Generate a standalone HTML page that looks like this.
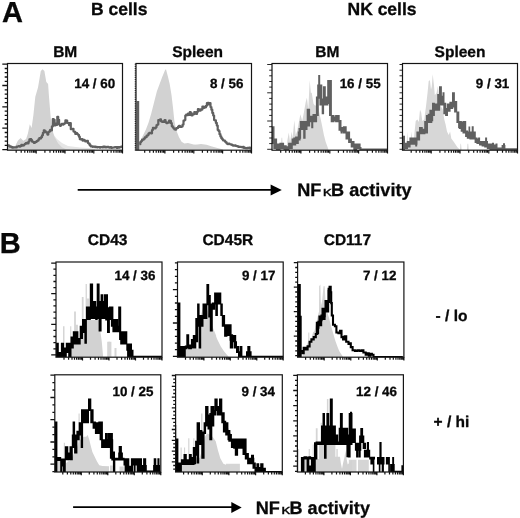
<!DOCTYPE html>
<html><head><meta charset="utf-8"><title>Figure</title>
<style>
html,body{margin:0;padding:0;background:#fff;}
body{width:520px;height:518px;overflow:hidden;font-family:"Liberation Sans",sans-serif;}
svg{display:block;filter:grayscale(1) blur(0.45px);}
svg text{text-rendering:geometricPrecision;}
svg text{font-family:"Liberation Sans",sans-serif;font-weight:bold;fill:#080808;stroke:#080808;stroke-width:0.3px;}
</style></head><body>
<svg width="520" height="518" viewBox="0 0 520 518">
<rect width="520" height="518" fill="#fff"/>
<defs><clipPath id="cA1"><rect x="7.5" y="63.5" width="115.0" height="86.7"/></clipPath><clipPath id="cA2"><rect x="136.0" y="63.5" width="115.5" height="86.7"/></clipPath><clipPath id="cA3"><rect x="272.0" y="63.5" width="115.5" height="86.7"/></clipPath><clipPath id="cA4"><rect x="402.5" y="63.5" width="115.0" height="86.7"/></clipPath><clipPath id="cB1"><rect x="56.0" y="262.0" width="106.0" height="95.2"/></clipPath><clipPath id="cB2"><rect x="177.5" y="262.0" width="105.7" height="95.2"/></clipPath><clipPath id="cB3"><rect x="297.6" y="262.0" width="106.3" height="95.2"/></clipPath><clipPath id="cB4"><rect x="54.8" y="374.8" width="106.0" height="97.2"/></clipPath><clipPath id="cB5"><rect x="175.6" y="374.8" width="106.7" height="97.2"/></clipPath><clipPath id="cB6"><rect x="297.4" y="374.8" width="106.0" height="97.2"/></clipPath></defs>
<g clip-path="url(#cA1)">
<path d="M50.0 150.2 L50.0 128.0 L53.0 134.0 L57.0 139.0 L62.0 143.0 L68.0 146.0 L80.0 147.6 L95.0 148.6 L95.0 150.2 Z" fill="#e6e6e6"/>
<path d="M7.8 150.2 L7.8 146.2 L9.6 143.5 L11.4 146.2 L15.1 146.2 L17.8 140.7 L20.6 138.0 L23.3 140.7 L26.1 138.9 L27.9 133.4 L29.8 124.2 L31.6 127.9 L33.4 115.0 L35.3 96.7 L38.0 87.5 L40.8 71.0 L42.6 69.2 L44.4 71.0 L46.3 82.0 L48.1 83.9 L49.0 96.7 L50.5 115.0 L51.8 127.9 L54.5 137.1 L58.2 143.5 L61.9 147.2 L65.6 149.0 L70.0 149.5 L70.0 150.2 Z" fill="#d2d2d2"/>
<path d="M7.8 145.3 H8.7 V145.8 H9.6 V146.7 H10.5 V146.7 H11.4 V147.2 H12.3 V147.7 H13.2 V147.3 H14.1 V147.5 H15.0 V147.4 H15.9 V147.5 H16.8 V146.5 H17.7 V146.5 H18.6 V146.1 H19.5 V146.6 H20.4 V146.1 H21.3 V144.9 H22.2 V145.7 H23.1 V145.4 H24.0 V144.5 H24.9 V143.9 H25.8 V143.0 H26.7 V142.8 H27.6 V143.5 H28.5 V141.6 H29.4 V139.4 H30.3 V139.2 H31.2 V140.2 H32.1 V141.7 H33.0 V142.0 H33.9 V142.9 H34.8 V142.3 H35.7 V141.9 H36.6 V141.1 H37.5 V140.7 H38.4 V139.4 H39.3 V138.2 H40.2 V138.5 H41.1 V137.2 H42.0 V135.3 H42.9 V132.8 H43.8 V130.4 H44.7 V131.1 H45.6 V132.2 H46.5 V132.6 H47.4 V134.6 H48.3 V132.0 H49.2 V131.4 H50.1 V129.9 H51.0 V130.5 H51.9 V126.4 H52.8 V119.1 H53.7 V119.9 H54.6 V125.5 H55.5 V123.7 H56.4 V124.8 H57.3 V116.8 H58.2 V119.8 H59.1 V124.3 H60.0 V125.8 H60.9 V124.5 H61.8 V123.9 H62.7 V124.6 H63.6 V123.9 H64.5 V123.2 H65.4 V120.4 H66.3 V120.6 H67.2 V123.0 H68.1 V123.1 H69.0 V125.1 H69.9 V123.2 H70.8 V129.2 H71.7 V129.2 H72.6 V128.8 H73.5 V131.5 H74.4 V131.9 H75.3 V133.9 H76.2 V133.0 H77.1 V134.0 H78.0 V134.8 H78.9 V136.7 H79.8 V139.2 H80.7 V139.4 H81.6 V139.2 H82.5 V140.6 H83.4 V139.8 H84.3 V140.4 H85.2 V141.4 H86.1 V141.4 H87.0 V140.9 H87.9 V143.0 H88.8 V143.7 H89.7 V145.2 H90.6 V146.3 H91.5 V146.4 H92.4 V146.8 H93.3 V146.6 H94.2 V146.6 H95.1 V147.2 H96.0 V146.9 H96.9 V147.3 H97.8 V147.0 H98.7 V147.1 H99.6 V147.6 H100.5 V147.0 H101.4 V147.1 H102.3 V147.4 H103.2 V146.7 H104.1 V146.6 H105.0 V147.4 H105.9 V147.4 H106.8 V146.8 H107.7 V146.8 H108.6 V147.4 H109.5 V147.7 H110.4 V147.0 H111.3 V147.8 H112.2 V147.7 H113.1 V147.5 H114.0 V147.3 H114.9 V147.0 H115.8 V147.0 H116.7 V147.9 H117.6 V147.2 H118.5 V147.7 H119.4 V147.0 H120.3 V147.1 H121.2 V146.5 H122.1 V146.2" fill="none" stroke="#606060" stroke-width="2.2" stroke-linejoin="round"/>
</g>
<rect x="7.5" y="63.5" width="115.0" height="86.7" fill="none" stroke="#151515" stroke-width="1.2"/>
<path d="M16.2 150.2V152.8M21.2 150.2V152.8M24.8 150.2V152.8M27.6 150.2V152.8M29.9 150.2V152.8M31.8 150.2V152.8M33.5 150.2V152.8M34.9 150.2V152.8M36.2 150.2V153.4M44.9 150.2V152.8M50.0 150.2V152.8M53.6 150.2V152.8M56.3 150.2V152.8M58.6 150.2V152.8M60.5 150.2V152.8M62.2 150.2V152.8M63.7 150.2V152.8M65.0 150.2V153.4M73.7 150.2V152.8M78.7 150.2V152.8M82.3 150.2V152.8M85.1 150.2V152.8M87.4 150.2V152.8M89.3 150.2V152.8M91.0 150.2V152.8M92.4 150.2V152.8M93.8 150.2V153.4M102.4 150.2V152.8M107.5 150.2V152.8M111.1 150.2V152.8M113.8 150.2V152.8M116.1 150.2V152.8M118.0 150.2V152.8M119.7 150.2V152.8M121.2 150.2V152.8M122.5 150.2V153.4" stroke="#111" stroke-width="1.2" fill="none"/>
<g clip-path="url(#cA2)">
<path d="M138.5 150.2 L138.5 144.4 L140.3 140.7 L143.1 135.2 L145.8 129.7 L148.6 122.4 L151.3 113.2 L154.1 102.2 L156.9 91.2 L159.6 83.9 L162.4 76.5 L165.1 70.1 L166.0 69.2 L167.9 76.5 L169.7 83.9 L171.5 94.9 L173.0 107.7 L174.3 120.6 L176.1 129.7 L178.9 137.1 L181.6 141.7 L184.4 143.5 L188.0 142.9 L193.6 144.4 L198.0 144.8 L191.8 145.1 L195.5 144.8 L201.0 144.0 L206.5 144.8 L212.0 146.6 L217.5 148.1 L223.0 149.5 L223.0 150.2 Z" fill="#d2d2d2"/>
<rect x="136.6" y="101.0" width="2.6" height="49.2" fill="#606060"/>
<path d="M139.4 144.2 H140.3 V142.1 H141.2 V141.0 H142.1 V139.5 H143.0 V139.6 H143.9 V138.7 H144.8 V137.4 H145.7 V137.2 H146.6 V135.5 H147.5 V135.3 H148.4 V133.7 H149.3 V132.8 H150.2 V132.9 H151.1 V133.3 H152.0 V130.0 H152.9 V127.9 H153.8 V128.0 H154.7 V128.4 H155.6 V127.3 H156.5 V125.2 H157.4 V124.5 H158.3 V120.0 H159.2 V120.5 H160.1 V119.4 H161.0 V121.3 H161.9 V121.8 H162.8 V121.4 H163.7 V121.9 H164.6 V120.1 H165.5 V122.1 H166.4 V123.2 H167.3 V122.7 H168.2 V122.6 H169.1 V120.7 H170.0 V120.9 H170.9 V123.2 H171.8 V126.2 H172.7 V127.3 H173.6 V128.5 H174.5 V129.5 H175.4 V129.6 H176.3 V128.1 H177.2 V127.9 H178.1 V126.6 H179.0 V125.8 H179.9 V126.9 H180.8 V126.9 H181.7 V126.4 H182.6 V124.6 H183.5 V120.7 H184.4 V120.0 H185.3 V115.6 H186.2 V114.6 H187.1 V115.2 H188.0 V113.6 H188.9 V115.0 H189.8 V112.2 H190.7 V113.0 H191.6 V115.5 H192.5 V114.4 H193.4 V114.2 H194.3 V112.0 H195.2 V113.0 H196.1 V113.9 H197.0 V111.8 H197.9 V109.2 H198.8 V110.0 H199.7 V110.7 H200.6 V109.3 H201.5 V109.6 H202.4 V106.5 H203.3 V108.0 H204.2 V106.9 H205.1 V107.3 H206.0 V105.8 H206.9 V103.0 H207.8 V102.9 H208.7 V104.3 H209.6 V103.2 H210.5 V107.1 H211.4 V109.7 H212.3 V112.9 H213.2 V115.5 H214.1 V120.1 H215.0 V120.4 H215.9 V122.9 H216.8 V125.6 H217.7 V129.9 H218.6 V131.1 H219.5 V134.2 H220.4 V136.4 H221.3 V138.2 H222.2 V139.3 H223.1 V140.5 H224.0 V140.5 H224.9 V141.6 H225.8 V142.4 H226.7 V143.6 H227.6 V144.1 H228.5 V143.5 H229.4 V144.0 H230.3 V144.4 H231.2 V144.7 H232.1 V145.2 H233.0 V145.7 H233.9 V145.6 H234.8 V145.4 H235.7 V146.0 H236.6 V146.1 H237.5 V146.4 H238.4 V147.0 H239.3 V146.8 H240.2 V146.8 H241.1 V147.0 H242.0 V147.3 H242.9 V146.8 H243.8 V147.9 H244.7 V147.9 H245.6 V148.1 H246.5 V148.2 H247.4 V147.8 H248.3 V147.9 H249.2 V147.7 H250.1 V148.3 H251.0 V147.9" fill="none" stroke="#606060" stroke-width="2.2" stroke-linejoin="round"/>
</g>
<rect x="136.0" y="63.5" width="115.5" height="86.7" fill="none" stroke="#151515" stroke-width="1.2"/>
<path d="M144.7 150.2V152.8M149.8 150.2V152.8M153.4 150.2V152.8M156.2 150.2V152.8M158.5 150.2V152.8M160.4 150.2V152.8M162.1 150.2V152.8M163.6 150.2V152.8M164.9 150.2V153.4M173.6 150.2V152.8M178.7 150.2V152.8M182.3 150.2V152.8M185.1 150.2V152.8M187.3 150.2V152.8M189.3 150.2V152.8M191.0 150.2V152.8M192.4 150.2V152.8M193.8 150.2V153.4M202.4 150.2V152.8M207.5 150.2V152.8M211.1 150.2V152.8M213.9 150.2V152.8M216.2 150.2V152.8M218.2 150.2V152.8M219.8 150.2V152.8M221.3 150.2V152.8M222.6 150.2V153.4M231.3 150.2V152.8M236.4 150.2V152.8M240.0 150.2V152.8M242.8 150.2V152.8M245.1 150.2V152.8M247.0 150.2V152.8M248.7 150.2V152.8M250.2 150.2V152.8M251.5 150.2V153.4" stroke="#111" stroke-width="1.2" fill="none"/>
<g clip-path="url(#cA3)">
<path d="M286.5 150.2 L286.5 149.8 L287.4 140.3 L288.8 132.4 L290.0 142.0 L291.7 131.6 L292.6 138.5 L294.3 120.3 L295.7 135.0 L297.0 131.6 L298.7 122.9 L300.4 114.2 L302.2 121.1 L303.9 112.4 L305.7 102.0 L306.9 97.7 L308.3 109.0 L309.7 80.3 L310.9 93.3 L311.7 92.4 L313.5 103.7 L314.9 105.5 L317.0 105.5 L318.7 109.8 L320.4 117.7 L322.2 126.3 L323.9 135.0 L325.7 142.0 L328.3 149.0 L328.3 150.2 Z" fill="#d7d7d7"/>
<path d="M280.8 150.2 L280.8 149.8 L281.5 137.7 L282.2 137.7 L282.9 149.8 L282.9 150.2 Z" fill="#d7d7d7"/>
<path d="M271.9 126.2H274.5V143.9H271.9ZM273.3 138.4H277.1V149.1H273.3ZM275.9 143.6H280.6V150.0H275.9ZM279.4 142.7H284.1V149.1H279.4ZM283.4 145.3H286.7V150.0H283.4ZM285.5 146.2H289.3V150.0H285.5ZM288.1 142.7H292.8V149.1H288.1ZM291.6 138.4H296.2V145.6H291.6ZM293.3 137.5H296.2V140.4H293.3ZM295.1 136.6H298.8V143.9H295.1ZM297.7 131.4H300.6V140.4H297.7ZM298.5 127.9H301.1V138.7H298.5ZM299.8 121.0H307.5V130.0H299.8ZM303.2 129.7H305.6V138.7H303.2ZM306.7 108.8H310.1V126.5H306.7ZM309.0 115.8H313.6V122.2H309.0ZM311.2 121.8H313.3V128.2H311.2ZM312.5 114.0H317.1V122.2H312.5ZM315.9 96.6H318.8V116.1H315.9ZM317.2 84.5H320.6V98.7H317.2ZM318.2 74.9H320.2V85.6H318.2ZM319.4 84.5H322.3V105.6H319.4ZM321.7 98.4H324.1V114.3H321.7ZM322.9 86.2H325.8V105.6H322.9ZM325.2 96.6H328.4V105.6H325.2ZM327.2 80.1H330.1V103.9H327.2ZM329.0 80.1H331.9V116.1H329.0ZM330.7 114.9H334.5V122.2H330.7ZM333.3 116.6H336.2V121.3H333.3ZM335.1 114.9H339.7V122.2H335.1ZM338.5 120.1H341.5V130.8H338.5ZM340.3 127.1H344.1V131.7H340.3ZM340.6 130.5H342.7V133.5H340.6ZM342.9 126.2H346.7V133.5H342.9ZM345.5 131.4H350.1V139.5H345.5ZM348.1 138.4H351.9V143.0H348.1ZM350.7 141.0H354.5V147.4H350.7ZM353.3 143.6H357.1V150.0H353.3ZM355.9 143.6H360.6V149.1H355.9ZM359.4 147.1H361.5V150.0H359.4ZM361.2 148.5H387.5V150.0H361.2Z" fill="#606060"/>
</g>
<rect x="272.0" y="63.5" width="115.5" height="86.7" fill="none" stroke="#151515" stroke-width="1.2"/>
<path d="M280.7 150.2V152.8M285.8 150.2V152.8M289.4 150.2V152.8M292.2 150.2V152.8M294.5 150.2V152.8M296.4 150.2V152.8M298.1 150.2V152.8M299.6 150.2V152.8M300.9 150.2V153.4M309.6 150.2V152.8M314.7 150.2V152.8M318.3 150.2V152.8M321.1 150.2V152.8M323.3 150.2V152.8M325.3 150.2V152.8M327.0 150.2V152.8M328.4 150.2V152.8M329.8 150.2V153.4M338.4 150.2V152.8M343.5 150.2V152.8M347.1 150.2V152.8M349.9 150.2V152.8M352.2 150.2V152.8M354.2 150.2V152.8M355.8 150.2V152.8M357.3 150.2V152.8M358.6 150.2V153.4M367.3 150.2V152.8M372.4 150.2V152.8M376.0 150.2V152.8M378.8 150.2V152.8M381.1 150.2V152.8M383.0 150.2V152.8M384.7 150.2V152.8M386.2 150.2V152.8M387.5 150.2V153.4" stroke="#111" stroke-width="1.2" fill="none"/>
<g clip-path="url(#cA4)">
<path d="M404.3 150.2 L404.3 149.8 L404.9 147.2 L406.6 146.3 L407.3 131.6 L408.3 145.5 L410.4 143.7 L411.3 131.6 L412.2 140.3 L413.9 138.5 L415.7 121.1 L417.4 119.4 L418.8 122.0 L420.0 109.8 L421.2 112.4 L422.3 121.1 L424.3 119.4 L426.1 105.5 L427.5 93.3 L428.7 81.1 L429.9 80.3 L431.0 89.8 L431.8 86.3 L432.7 74.2 L433.9 84.6 L434.8 95.0 L436.5 93.3 L437.9 86.3 L439.1 96.8 L440.3 105.5 L442.6 109.0 L444.3 119.4 L445.6 124.6 L447.0 131.6 L448.7 135.0 L450.1 131.6 L451.3 138.5 L453.9 142.0 L457.4 147.2 L460.0 149.8 L460.0 150.2 Z" fill="#d7d7d7"/>
<path d="M460.0 150.2 L460.0 149.8 L460.5 143.7 L461.0 143.7 L461.6 149.8 L461.6 150.2 Z" fill="#d7d7d7"/>
<path d="M467.0 150.2 L467.0 149.8 L467.5 143.7 L468.2 143.7 L468.7 149.8 L468.7 150.2 Z" fill="#d7d7d7"/>
<path d="M402.3 135.8H405.0V150.0H402.3ZM404.2 142.7H408.0V149.1H404.2ZM406.8 141.0H410.6V147.4H406.8ZM409.4 137.5H417.5V144.8H409.4ZM415.2 143.6H417.2V146.5H415.2ZM416.4 131.4H420.1V140.4H416.4ZM419.0 127.1H422.8V134.3H419.0ZM421.6 128.8H425.4V134.3H421.6ZM424.2 121.0H428.0V133.5H424.2ZM425.9 114.9H432.3V123.0H425.9ZM427.7 113.7H430.1V116.1H427.7ZM429.4 109.7H433.2V121.3H429.4ZM432.0 102.7H434.9V116.1H432.0ZM433.8 103.6H438.4V110.8H433.8ZM437.2 94.0H440.1V110.8H437.2ZM439.0 86.2H441.9V105.6H439.0ZM440.7 95.8H444.5V105.6H440.7ZM442.5 92.3H444.5V96.9H442.5ZM443.3 102.7H446.2V114.3H443.3ZM445.1 107.9H448.0V116.1H445.1ZM446.8 103.6H450.6V111.7H446.8ZM449.4 101.8H453.2V109.1H449.4ZM452.0 92.3H454.9V107.4H452.0ZM454.1 101.0H457.2V112.6H454.1ZM456.4 111.4H459.3V123.0H456.4ZM458.1 121.0H461.0V128.2H458.1ZM459.0 121.0H461.9V129.1H459.0ZM460.7 121.8H463.6V131.7H460.7ZM462.5 121.0H466.2V133.5H462.5ZM465.1 130.5H468.0V136.9H465.1ZM466.8 131.4H470.6V138.7H466.8ZM468.5 126.5H470.2V132.6H468.5ZM469.4 131.4H472.3V139.5H469.4ZM471.2 131.4H475.8V139.5H471.2ZM471.7 126.2H473.7V132.6H471.7ZM474.6 137.5H477.5V143.0H474.6ZM476.4 138.4H480.1V143.9H476.4ZM478.1 137.5H480.1V139.5H478.1ZM479.0 141.0H482.8V145.6H479.0ZM481.6 141.0H485.4V146.5H481.6ZM484.2 141.0H488.0V147.4H484.2ZM485.1 137.5H487.1V142.2H485.1ZM486.8 143.6H490.6V149.1H486.8ZM489.4 143.6H494.1V150.0H489.4ZM492.0 142.7H494.1V144.8H492.0ZM492.9 144.5H497.5V150.0H492.9ZM495.5 143.6H497.5V145.6H495.5ZM497.2 147.4H501.9V150.0H497.2ZM501.6 145.0H505.4V150.0H501.6ZM503.0 143.2H505.0V145.6H503.0ZM505.1 148.3H517.5V150.0H505.1Z" fill="#606060"/>
</g>
<rect x="402.5" y="63.5" width="115.0" height="86.7" fill="none" stroke="#151515" stroke-width="1.2"/>
<path d="M411.2 150.2V152.8M416.2 150.2V152.8M419.8 150.2V152.8M422.6 150.2V152.8M424.9 150.2V152.8M426.8 150.2V152.8M428.5 150.2V152.8M429.9 150.2V152.8M431.2 150.2V153.4M439.9 150.2V152.8M445.0 150.2V152.8M448.6 150.2V152.8M451.3 150.2V152.8M453.6 150.2V152.8M455.5 150.2V152.8M457.2 150.2V152.8M458.7 150.2V152.8M460.0 150.2V153.4M468.7 150.2V152.8M473.7 150.2V152.8M477.3 150.2V152.8M480.1 150.2V152.8M482.4 150.2V152.8M484.3 150.2V152.8M486.0 150.2V152.8M487.4 150.2V152.8M488.8 150.2V153.4M497.4 150.2V152.8M502.5 150.2V152.8M506.1 150.2V152.8M508.8 150.2V152.8M511.1 150.2V152.8M513.0 150.2V152.8M514.7 150.2V152.8M516.2 150.2V152.8M517.5 150.2V153.4" stroke="#111" stroke-width="1.2" fill="none"/>
<path d="M2.3 64.2H7.5M4.7 68.5H7.5M4.7 72.7H7.5M4.7 77.0H7.5M4.7 81.3H7.5M2.3 85.5H7.5M4.7 89.8H7.5M4.7 94.1H7.5M4.7 98.4H7.5M4.7 102.6H7.5M2.3 106.9H7.5M4.7 111.2H7.5M4.7 115.4H7.5M4.7 119.7H7.5M4.7 124.0H7.5M2.3 128.2H7.5M4.7 132.5H7.5M4.7 136.8H7.5M4.7 141.1H7.5M4.7 145.3H7.5M2.3 149.6H7.5" stroke="#111" stroke-width="1.3" fill="none"/>
<path d="M134.7 64.2H136.0M134.7 66.4H136.0M134.7 68.6H136.0M134.7 70.8H136.0M134.7 73.0H136.0M134.7 75.2H136.0M134.7 77.4H136.0M134.7 79.6H136.0M134.7 81.8H136.0M134.7 84.0H136.0M134.7 86.2H136.0M134.7 88.4H136.0M134.7 90.6H136.0M134.7 92.8H136.0M134.7 95.0H136.0M134.7 97.2H136.0M134.7 99.4H136.0M134.7 101.6H136.0M134.7 103.8H136.0M134.7 106.0H136.0M134.7 108.2H136.0M134.7 110.4H136.0M134.7 112.6H136.0M134.7 114.8H136.0M134.7 117.0H136.0M134.7 119.2H136.0M134.7 121.4H136.0M134.7 123.6H136.0M134.7 125.8H136.0M134.7 128.0H136.0M134.7 130.2H136.0M134.7 132.4H136.0M134.7 134.6H136.0M134.7 136.8H136.0M134.7 139.0H136.0M134.7 141.2H136.0M134.7 143.4H136.0M134.7 145.6H136.0M134.7 147.8H136.0M134.7 150.0H136.0" stroke="#111" stroke-width="0.9" fill="none"/>
<path d="M267.2 64.5H272.0M269.2 70.2H272.0M269.2 75.8H272.0M269.2 81.5H272.0M269.2 87.1H272.0M267.2 92.8H272.0M269.2 98.4H272.0M269.2 104.1H272.0M269.2 109.7H272.0M269.2 115.4H272.0M267.2 121.0H272.0M269.2 126.7H272.0M269.2 132.3H272.0M269.2 138.0H272.0M269.2 143.6H272.0M267.2 149.3H272.0" stroke="#111" stroke-width="0.9" fill="none"/>
<path d="M399.5 64.5H402.5M399.5 70.2H402.5M399.5 75.8H402.5M399.5 81.5H402.5M399.5 87.1H402.5M399.5 92.8H402.5M399.5 98.4H402.5M399.5 104.1H402.5M399.5 109.7H402.5M399.5 115.4H402.5M399.5 121.0H402.5M399.5 126.7H402.5M399.5 132.3H402.5M399.5 138.0H402.5M399.5 143.6H402.5M399.5 149.3H402.5" stroke="#111" stroke-width="0.9" fill="none"/>
<g clip-path="url(#cB1)">
<path d="M63.0 357.2 L63.0 356.4 L63.0 326.3 L64.5 326.3 L64.5 356.4 L64.5 357.2 Z" fill="#d5d5d5"/>
<path d="M70.2 357.2 L70.2 356.4 L70.2 326.3 L71.3 326.3 L71.3 356.4 L71.3 357.2 Z" fill="#d5d5d5"/>
<path d="M74.1 357.2 L74.1 356.4 L74.1 311.6 L75.9 311.6 L75.9 324.8 L77.9 324.8 L77.9 356.4 L77.9 357.2 Z" fill="#d5d5d5"/>
<path d="M81.8 357.2 L81.8 356.4 L81.8 297.0 L83.6 297.0 L83.6 326.3 L81.8 326.3 L81.8 357.2 Z" fill="#d5d5d5"/>
<path d="M85.6 357.2 L85.6 356.4 L85.6 283.9 L86.9 283.9 L86.9 298.5 L89.2 298.5 L89.2 356.4 L89.2 357.2 Z" fill="#d5d5d5"/>
<path d="M108.3 357.2 L108.3 356.4 L108.3 341.7 L111.4 341.7 L111.4 356.4 L111.4 357.2 Z" fill="#d5d5d5"/>
<path d="M114.5 357.2 L114.5 356.4 L114.5 347.9 L116.5 347.9 L116.5 356.4 L116.5 357.2 Z" fill="#d5d5d5"/>
<path d="M107.2 357.2 L107.2 356.4 L107.2 341.7 L110.0 341.7 L110.0 356.4 L110.0 357.2 Z" fill="#d5d5d5"/>
<path d="M71.0 357.2 L71.0 356.4 L71.0 347.9 L73.3 344.8 L75.6 344.0 L77.9 341.7 L80.2 338.6 L82.5 332.5 L84.9 326.3 L87.2 320.1 L98.8 320.1 L100.3 330.9 L101.8 341.7 L103.1 356.4 L103.1 357.2 Z" fill="#d2d2d2"/>
<path d="M55.5 342.8H58.8V356.9H55.5ZM57.8 352.0H61.9V356.9H57.8ZM60.9 342.8H64.1V356.9H60.9ZM63.1 347.4H66.8V356.9H63.1ZM65.8 342.8H69.2V353.0H65.8ZM68.2 342.8H71.5V356.9H68.2ZM70.5 336.6H73.8V348.4H70.5ZM72.8 331.2H78.4V344.5H72.8ZM77.4 338.1H80.7V344.5H77.4ZM79.7 325.8H83.0V339.1H79.7ZM82.0 318.9H85.4V333.0H82.0ZM84.4 318.9H86.9V343.8H84.4ZM85.9 306.5H90.8V319.9H85.9ZM89.8 283.4H93.1V319.1H89.8ZM92.1 301.1H96.2V319.1H92.1ZM95.2 306.5H97.7V319.9H95.2ZM96.7 283.4H99.6V319.1H96.7ZM98.6 301.1H101.6V331.4H98.6ZM100.6 294.2H103.1V319.1H100.6ZM102.1 301.1H104.7V319.1H102.1ZM103.7 294.2H106.2V319.1H103.7ZM105.2 301.1H107.7V320.6H105.2ZM106.7 307.3H110.5V319.1H106.7ZM104.6 294.2H108.0V313.7H104.6ZM107.0 312.7H109.9V333.0H107.0ZM108.9 306.5H113.4V313.7H108.9ZM109.4 306.5H111.9V319.9H109.4ZM110.9 306.5H113.4V326.8H110.9ZM112.4 318.9H118.1V332.2H112.4ZM118.2 306.5H121.2V332.2H118.2ZM117.1 325.8H121.2V332.2H117.1ZM119.1 331.2H121.6V339.9H119.1ZM120.2 331.2H127.3V344.5H120.2ZM126.3 343.5H132.0V350.7H126.3ZM127.1 349.7H129.6V356.9H127.1ZM129.4 349.7H133.5V356.9H129.4ZM132.5 355.7H162.1V357.2H132.5Z" fill="#000"/>
</g>
<rect x="56.0" y="262.0" width="106.0" height="95.2" fill="none" stroke="#151515" stroke-width="1.2"/>
<path d="M64.0 357.2V359.8M68.6 357.2V359.8M72.0 357.2V359.8M74.5 357.2V359.8M76.6 357.2V359.8M78.4 357.2V359.8M79.9 357.2V359.8M81.3 357.2V359.8M82.5 357.2V360.4M90.5 357.2V359.8M95.1 357.2V359.8M98.5 357.2V359.8M101.0 357.2V359.8M103.1 357.2V359.8M104.9 357.2V359.8M106.4 357.2V359.8M107.8 357.2V359.8M109.0 357.2V360.4M117.0 357.2V359.8M121.6 357.2V359.8M125.0 357.2V359.8M127.5 357.2V359.8M129.6 357.2V359.8M131.4 357.2V359.8M132.9 357.2V359.8M134.3 357.2V359.8M135.5 357.2V360.4M143.5 357.2V359.8M148.1 357.2V359.8M151.5 357.2V359.8M154.0 357.2V359.8M156.1 357.2V359.8M157.9 357.2V359.8M159.4 357.2V359.8M160.8 357.2V359.8M162.0 357.2V360.4" stroke="#111" stroke-width="1.2" fill="none"/>
<g clip-path="url(#cB2)">
<path d="M199.1 357.2 L199.1 356.4 L199.9 318.6 L203.0 307.8 L206.1 306.2 L209.2 315.5 L212.3 326.3 L216.1 335.6 L217.7 356.4 L217.7 357.2 Z" fill="#d5d5d5"/>
<path d="M185.3 357.2 L185.3 356.4 L185.3 348.8 L200.7 348.5 L201.9 339.4 L203.9 329.4 L205.9 326.3 L207.8 317.8 L209.2 317.0 L210.7 326.3 L213.0 330.9 L215.4 335.6 L217.7 340.2 L220.8 346.4 L223.8 351.0 L226.9 354.8 L228.5 356.4 L228.5 357.2 Z" fill="#d2d2d2"/>
<path d="M177.0 302.6H180.4V356.9H177.0ZM179.4 345.9H185.8V356.9H179.4ZM184.8 345.5H187.3V349.2H184.8ZM186.3 334.3H189.2V348.4H186.3ZM188.2 344.6H191.9V349.2H188.2ZM190.9 338.9H193.8V348.4H190.9ZM192.8 335.1H196.3V348.4H192.8ZM195.3 318.1H198.1V342.2H195.3ZM197.1 303.4H199.6V326.8H197.1ZM198.6 315.0H201.2V348.4H198.6ZM200.2 315.0H203.5V326.8H200.2ZM202.5 303.4H207.4V319.1H202.5ZM206.4 284.1H209.2V305.2H206.4ZM208.2 294.9H210.8V317.5H208.2ZM209.8 303.4H212.8V331.4H209.8ZM211.8 302.6H215.1V309.8H211.8ZM214.1 292.6H221.3V304.4H214.1ZM215.3 303.4H217.9V316.0H215.3ZM220.3 303.4H222.8V316.0H220.3ZM221.8 315.0H225.1V326.8H221.8ZM224.1 324.3H227.4V336.8H224.1ZM226.4 324.3H230.5V336.1H226.4ZM229.5 334.3H232.5V340.7H229.5ZM226.6 324.3H231.6V336.1H226.6ZM229.8 334.3H233.1V348.4H229.8ZM231.4 335.1H236.2V342.2H231.4ZM233.7 341.2H237.0V348.4H233.7ZM236.0 345.9H239.0V353.0H236.0ZM238.0 351.3H240.8V356.9H238.0ZM239.5 345.9H242.4V356.9H239.5ZM241.4 355.7H247.0V357.2H241.4ZM246.0 351.3H248.6V356.9H246.0ZM247.3 345.9H250.4V356.9H247.3ZM249.1 351.3H251.6V356.9H249.1ZM250.6 355.7H284.1V357.2H250.6Z" fill="#000"/>
</g>
<rect x="177.5" y="262.0" width="105.7" height="95.2" fill="none" stroke="#151515" stroke-width="1.2"/>
<path d="M185.5 357.2V359.8M190.1 357.2V359.8M193.4 357.2V359.8M196.0 357.2V359.8M198.1 357.2V359.8M199.8 357.2V359.8M201.4 357.2V359.8M202.7 357.2V359.8M203.9 357.2V360.4M211.9 357.2V359.8M216.5 357.2V359.8M219.8 357.2V359.8M222.4 357.2V359.8M224.5 357.2V359.8M226.3 357.2V359.8M227.8 357.2V359.8M229.1 357.2V359.8M230.3 357.2V360.4M238.3 357.2V359.8M243.0 357.2V359.8M246.3 357.2V359.8M248.8 357.2V359.8M250.9 357.2V359.8M252.7 357.2V359.8M254.2 357.2V359.8M255.6 357.2V359.8M256.8 357.2V360.4M264.7 357.2V359.8M269.4 357.2V359.8M272.7 357.2V359.8M275.2 357.2V359.8M277.3 357.2V359.8M279.1 357.2V359.8M280.6 357.2V359.8M282.0 357.2V359.8M283.2 357.2V360.4" stroke="#111" stroke-width="1.2" fill="none"/>
<g clip-path="url(#cB3)">
<path d="M308.0 357.2 L308.0 356.4 L308.3 332.5 L309.3 332.5 L309.6 356.4 L309.6 357.2 Z" fill="#d5d5d5"/>
<path d="M318.8 357.2 L318.8 356.4 L319.1 286.2 L320.4 284.6 L321.0 306.2 L322.2 300.1 L323.5 286.2 L324.7 286.2 L325.3 297.0 L326.2 306.2 L326.2 356.4 L326.2 357.2 Z" fill="#d5d5d5"/>
<path d="M302.2 357.2 L302.2 356.4 L303.7 352.5 L306.0 347.9 L308.0 341.7 L309.6 341.7 L311.4 338.6 L313.0 332.5 L314.5 330.9 L316.1 323.2 L317.6 317.0 L319.1 310.9 L320.7 306.2 L322.2 303.1 L323.8 303.1 L325.0 301.6 L326.1 306.2 L327.6 313.2 L329.2 318.6 L330.7 324.8 L332.3 330.2 L333.8 335.6 L335.4 341.0 L337.4 346.4 L339.2 351.0 L341.1 354.1 L342.9 356.4 L342.9 357.2 Z" fill="#d2d2d2"/>
<path d="M297.0 284.1H300.8V357.2H297.0ZM297.0 315.8H301.7V357.2H297.0ZM315.8 321.7H319.1V334.0H315.8ZM318.4 315.5H322.2V326.3H318.4ZM321.5 307.8H325.6V320.1H321.5ZM324.5 300.1H329.2V312.4H324.5ZM327.6 287.7H330.7V303.1H327.6Z" fill="#000"/>
<path d="M300.6 351.0 H302.2 V353.3 H303.7 V347.9 H305.6 V349.4 H307.6 V346.4 H309.6 V341.7 H311.4 V339.4 H313.7 V337.1 H315.8 V334.0 H317.3 V327.8 H318.4 V321.7 H320.4 V320.1 H321.5 V315.5 H323.5 V316.3 H324.5 V310.9 H326.1 V303.1 H327.6 V301.6 H328.7 V290.8 H329.6 V286.9 H330.7 V292.3 H331.2 V303.1 H331.8 V315.5 H333.0 V324.8 H334.9 V326.3 H336.4 V332.5 H338.4 V333.2 H340.0 V330.9 H341.5 V337.1 H343.1 V339.4 H344.6 V336.3 H346.2 V341.7 H348.5 V344.0 H349.5 V343.3 H350.8 V347.1 H352.6 V350.2 H354.9 V351.0 H357.3 V350.2 H359.6 V351.0 H361.9 V350.2 H363.4 V352.5 H365.7 V354.8 H367.3 V353.3 H368.8 V355.6 H370.4 V353.8 H371.9 V354.8 H373.5 V357.0 H402.8 V357.0" fill="none" stroke="#000" stroke-width="2.1" stroke-linejoin="miter"/>
</g>
<rect x="297.6" y="262.0" width="106.3" height="95.2" fill="none" stroke="#151515" stroke-width="1.2"/>
<path d="M305.6 357.2V359.8M310.3 357.2V359.8M313.6 357.2V359.8M316.2 357.2V359.8M318.3 357.2V359.8M320.1 357.2V359.8M321.6 357.2V359.8M323.0 357.2V359.8M324.2 357.2V360.4M332.2 357.2V359.8M336.9 357.2V359.8M340.2 357.2V359.8M342.8 357.2V359.8M344.9 357.2V359.8M346.6 357.2V359.8M348.2 357.2V359.8M349.5 357.2V359.8M350.8 357.2V360.4M358.7 357.2V359.8M363.4 357.2V359.8M366.7 357.2V359.8M369.3 357.2V359.8M371.4 357.2V359.8M373.2 357.2V359.8M374.7 357.2V359.8M376.1 357.2V359.8M377.3 357.2V360.4M385.3 357.2V359.8M390.0 357.2V359.8M393.3 357.2V359.8M395.9 357.2V359.8M398.0 357.2V359.8M399.8 357.2V359.8M401.3 357.2V359.8M402.7 357.2V359.8M403.9 357.2V360.4" stroke="#111" stroke-width="1.2" fill="none"/>
<g clip-path="url(#cB4)">
<path d="M57.3 472.0 L57.3 471.7 L57.3 459.8 L60.7 459.8 L60.7 471.7 L60.7 472.0 Z" fill="#d5d5d5"/>
<path d="M63.8 472.0 L63.8 471.7 L63.8 442.8 L65.0 442.8 L65.0 471.7 L65.0 472.0 Z" fill="#d5d5d5"/>
<path d="M67.7 472.0 L67.7 471.7 L67.7 445.9 L68.6 445.9 L68.6 471.7 L68.6 472.0 Z" fill="#d5d5d5"/>
<path d="M78.2 472.0 L78.2 471.7 L78.5 413.5 L79.7 413.5 L80.0 471.7 L80.0 472.0 Z" fill="#d5d5d5"/>
<path d="M110.0 472.0 L110.0 471.7 L110.0 465.4 L112.6 465.4 L112.6 471.7 L112.6 472.0 Z" fill="#d5d5d5"/>
<path d="M119.5 472.0 L119.5 471.7 L119.5 466.5 L123.8 466.5 L123.8 471.7 L123.8 472.0 Z" fill="#d5d5d5"/>
<path d="M66.1 472.0 L66.1 471.7 L66.1 462.9 L68.4 461.4 L70.7 459.8 L72.3 456.7 L74.6 452.1 L76.9 447.5 L79.2 441.3 L81.5 438.2 L83.9 436.7 L86.2 436.7 L87.7 435.1 L89.3 439.8 L90.8 445.9 L92.4 452.1 L94.7 456.7 L97.0 461.4 L99.3 465.2 L102.4 466.0 L109.0 466.3 L109.0 471.7 L109.0 472.0 Z" fill="#d2d2d2"/>
<path d="M54.4 421.5H57.4V472.2H54.4ZM56.4 457.0H61.2V461.1H56.4ZM60.2 458.5H62.5V472.2H60.2ZM61.5 458.5H64.0V466.5H61.5ZM63.0 458.5H65.8V472.2H63.0ZM64.8 446.2H68.2V460.3H64.8ZM67.2 452.4H70.5V460.3H67.2ZM69.5 446.2H72.8V460.3H69.5ZM71.8 434.6H75.1V448.0H71.8ZM72.6 421.5H75.1V437.2H72.6ZM74.1 434.6H77.4V453.4H74.1ZM76.4 430.8H79.7V440.3H76.4ZM78.7 422.3H82.0V435.6H78.7ZM81.0 409.2H86.7V423.3H81.0ZM80.7 422.3H83.1V448.0H80.7ZM85.7 409.2H89.0V423.3H85.7ZM88.0 398.4H91.3V410.9H88.0ZM90.3 409.2H93.6V423.3H90.3ZM92.6 421.5H95.9V428.7H92.6ZM94.9 422.3H98.3V434.1H94.9ZM97.3 427.7H100.6V434.1H97.3ZM98.3 421.5H100.9V429.5H98.3ZM99.6 421.5H102.9V440.3H99.6ZM101.1 439.3H106.7V448.0H101.1ZM105.0 433.1H107.5V448.0H105.0ZM106.5 439.3H109.5V448.0H106.5ZM103.6 439.3H113.2V448.0H103.6ZM105.3 433.1H107.8V441.0H105.3ZM107.9 433.1H110.4V441.0H107.9ZM110.4 433.1H112.9V441.0H110.4ZM109.9 447.0H113.2V458.8H109.9ZM111.3 451.4H115.0V460.4H111.3ZM112.9 458.8H115.3V472.0H112.9ZM114.5 457.7H124.5V460.4H114.5ZM118.7 446.1H121.9V458.8H118.7ZM118.2 452.4H122.9V459.3H118.2ZM123.5 458.3H129.3V465.6H123.5ZM124.6 465.1H127.2V472.0H124.6ZM127.2 465.1H129.3V472.0H127.2ZM128.8 465.7H131.4V472.0H128.8ZM130.9 458.3H142.0V465.6H130.9ZM130.9 465.1H133.0V472.0H130.9ZM133.6 465.1H135.6V472.0H133.6ZM136.7 465.1H146.8V472.0H136.7ZM143.1 458.3H146.2V472.0H143.1ZM146.3 470.6H153.6V472.0H146.3ZM153.7 458.3H156.3V472.0H153.7ZM157.4 458.3H159.5V472.0H157.4ZM153.1 465.1H160.0V472.0H153.1Z" fill="#000"/>
</g>
<rect x="54.8" y="374.8" width="106.0" height="97.2" fill="none" stroke="#151515" stroke-width="1.2"/>
<path d="M62.8 472.0V474.6M67.4 472.0V474.6M70.8 472.0V474.6M73.3 472.0V474.6M75.4 472.0V474.6M77.2 472.0V474.6M78.7 472.0V474.6M80.1 472.0V474.6M81.3 472.0V475.2M89.3 472.0V474.6M93.9 472.0V474.6M97.3 472.0V474.6M99.8 472.0V474.6M101.9 472.0V474.6M103.7 472.0V474.6M105.2 472.0V474.6M106.6 472.0V474.6M107.8 472.0V475.2M115.8 472.0V474.6M120.4 472.0V474.6M123.8 472.0V474.6M126.3 472.0V474.6M128.4 472.0V474.6M130.2 472.0V474.6M131.7 472.0V474.6M133.1 472.0V474.6M134.3 472.0V475.2M142.3 472.0V474.6M146.9 472.0V474.6M150.3 472.0V474.6M152.8 472.0V474.6M154.9 472.0V474.6M156.7 472.0V474.6M158.2 472.0V474.6M159.6 472.0V474.6M160.8 472.0V475.2" stroke="#111" stroke-width="1.2" fill="none"/>
<g clip-path="url(#cB5)">
<path d="M175.9 472.0 L175.9 471.7 L175.9 425.1 L177.1 425.1 L177.1 471.7 L177.1 472.0 Z" fill="#d5d5d5"/>
<path d="M180.5 472.0 L180.5 471.7 L180.5 447.5 L181.7 447.5 L181.7 471.7 L181.7 472.0 Z" fill="#d5d5d5"/>
<path d="M184.0 472.0 L184.0 471.7 L184.0 447.5 L185.1 447.5 L185.1 471.7 L185.1 472.0 Z" fill="#d5d5d5"/>
<path d="M188.2 472.0 L188.2 471.7 L188.2 438.2 L189.4 438.2 L189.4 471.7 L189.4 472.0 Z" fill="#d5d5d5"/>
<path d="M193.3 472.0 L193.3 471.7 L193.3 438.2 L194.4 438.2 L194.4 471.7 L194.4 472.0 Z" fill="#d5d5d5"/>
<path d="M201.0 472.0 L201.0 471.7 L201.0 413.5 L202.5 413.5 L202.5 471.7 L202.5 472.0 Z" fill="#d5d5d5"/>
<path d="M226.0 472.0 L226.0 471.7 L226.0 463.7 L239.9 463.7 L239.9 471.7 L239.9 472.0 Z" fill="#d5d5d5"/>
<path d="M181.4 472.0 L181.4 471.7 L181.4 465.2 L194.1 464.4 L195.6 459.8 L197.1 456.7 L199.5 458.3 L201.0 453.6 L203.3 445.9 L204.9 436.7 L207.2 433.6 L209.5 434.4 L212.6 436.7 L215.7 441.3 L218.0 450.6 L220.3 458.3 L223.4 463.7 L227.2 465.2 L230.0 464.8 L230.0 471.7 L230.0 472.0 Z" fill="#d2d2d2"/>
<path d="M175.0 438.5H178.4V472.2H175.0ZM177.4 462.4H181.9V472.2H177.4ZM180.9 459.3H184.5V464.9H180.9ZM183.5 453.9H186.8V464.9H183.5ZM185.8 459.3H189.9V464.9H185.8ZM188.9 453.9H191.8V464.9H188.9ZM190.8 457.0H194.6V464.9H190.8ZM192.8 447.0H196.1V464.2H192.8ZM195.1 440.8H198.4V455.7H195.1ZM196.6 422.3H200.0V444.9H196.6ZM196.6 443.9H199.2V463.4H196.6ZM199.0 430.0H202.3V444.9H199.0ZM201.3 431.5H204.6V458.8H201.3ZM203.6 422.3H206.1V434.1H203.6ZM205.1 406.1H208.5V426.4H205.1ZM207.5 414.6H210.3V429.5H207.5ZM209.3 413.0H212.3V440.3H209.3ZM210.5 406.1H213.1V415.6H210.5ZM211.3 406.1H214.3V426.4H211.3ZM213.3 409.9H216.2V415.6H213.3ZM214.4 398.4H217.7V410.9H214.4ZM216.7 406.1H220.0V415.6H216.7ZM219.0 398.4H222.3V415.6H219.0ZM221.3 412.2H224.7V423.3H221.3ZM222.9 420.7H226.2V432.5H222.9ZM225.2 428.5H228.5V435.6H225.2ZM227.5 433.1H230.5V440.3H227.5ZM224.6 422.3H228.4V432.5H224.6ZM226.7 430.0H230.4V435.6H226.7ZM228.3 433.9H231.9V441.8H228.3ZM230.9 438.5H234.2V448.0H230.9ZM233.2 438.5H237.3V448.7H233.2ZM234.8 447.0H238.1V455.7H234.8ZM237.1 438.5H246.6V448.7H237.1ZM242.5 447.0H246.6V454.9H242.5ZM244.8 453.1H248.9V459.5H244.8ZM247.1 457.8H254.3V464.2H247.1ZM251.0 454.7H254.0V459.5H251.0ZM252.5 462.4H255.8V468.8H252.5ZM254.5 467.0H257.4V472.2H254.5ZM256.4 463.2H259.2V472.2H256.4ZM258.2 467.0H261.2V472.2H258.2ZM260.2 463.2H263.5V472.2H260.2ZM262.5 467.8H265.9V472.2H262.5ZM264.9 471.0H282.1V472.5H264.9Z" fill="#000"/>
</g>
<rect x="175.6" y="374.8" width="106.7" height="97.2" fill="none" stroke="#151515" stroke-width="1.2"/>
<path d="M183.6 472.0V474.6M188.3 472.0V474.6M191.7 472.0V474.6M194.2 472.0V474.6M196.4 472.0V474.6M198.1 472.0V474.6M199.7 472.0V474.6M201.1 472.0V474.6M202.3 472.0V475.2M210.3 472.0V474.6M215.0 472.0V474.6M218.3 472.0V474.6M220.9 472.0V474.6M223.0 472.0V474.6M224.8 472.0V474.6M226.4 472.0V474.6M227.7 472.0V474.6M228.9 472.0V475.2M237.0 472.0V474.6M241.7 472.0V474.6M245.0 472.0V474.6M247.6 472.0V474.6M249.7 472.0V474.6M251.5 472.0V474.6M253.0 472.0V474.6M254.4 472.0V474.6M255.6 472.0V475.2M263.7 472.0V474.6M268.4 472.0V474.6M271.7 472.0V474.6M274.3 472.0V474.6M276.4 472.0V474.6M278.2 472.0V474.6M279.7 472.0V474.6M281.1 472.0V474.6M282.3 472.0V475.2" stroke="#111" stroke-width="1.2" fill="none"/>
<g clip-path="url(#cB6)">
<path d="M297.5 472.0 L297.5 471.7 L297.5 449.0 L299.1 449.0 L299.1 471.7 L299.1 472.0 Z" fill="#d5d5d5"/>
<path d="M315.8 472.0 L315.8 471.7 L315.8 428.2 L317.6 428.2 L317.6 471.7 L317.6 472.0 Z" fill="#d5d5d5"/>
<path d="M312.7 472.0 L312.7 471.7 L312.7 444.4 L313.7 444.4 L313.7 471.7 L313.7 472.0 Z" fill="#d5d5d5"/>
<path d="M308.7 472.0 L308.7 471.7 L308.7 449.0 L309.9 449.0 L309.9 471.7 L309.9 472.0 Z" fill="#d5d5d5"/>
<path d="M304.6 472.0 L304.6 471.7 L304.6 459.0 L307.1 459.0 L307.1 471.7 L307.1 472.0 Z" fill="#d5d5d5"/>
<path d="M326.9 472.0 L326.9 441.3 L326.9 398.9 L328.4 398.9 L328.4 441.3 L328.4 472.0 Z" fill="#d5d5d5"/>
<path d="M320.4 472.0 L320.4 441.3 L320.7 422.8 L321.9 422.8 L321.9 441.3 L321.9 472.0 Z" fill="#d5d5d5"/>
<path d="M348.8 472.0 L348.8 471.7 L348.8 459.8 L356.5 459.8 L356.5 471.7 L356.5 472.0 Z" fill="#d5d5d5"/>
<path d="M358.0 472.0 L358.0 471.7 L358.0 459.8 L368.8 459.8 L368.8 471.7 L368.8 472.0 Z" fill="#d5d5d5"/>
<path d="M315.8 472.0 L315.8 471.7 L315.8 459.0 L319.1 459.0 L319.1 444.4 L335.4 444.4 L335.4 456.7 L336.4 456.7 L336.4 449.0 L337.7 449.0 L337.7 456.7 L340.0 456.7 L340.8 462.9 L342.0 469.1 L343.1 462.9 L344.6 456.7 L345.4 450.6 L346.2 456.7 L347.7 464.4 L349.2 462.9 L352.0 459.8 L352.0 471.7 L352.0 472.0 Z" fill="#d2d2d2"/>
<path d="M300.9 457.0H304.5V472.2H300.9ZM303.5 456.2H307.6V459.5H303.5ZM306.6 457.0H309.2V472.2H306.6ZM308.2 456.2H311.2V459.5H308.2ZM309.1 465.5H311.9V472.2H309.1ZM310.9 457.0H315.8V472.2H310.9ZM314.0 442.3H317.3V459.5H314.0ZM315.6 441.6H352.5V444.9H315.6ZM324.0 442.3H326.6V458.8H324.0ZM321.0 425.4H335.9V443.3H321.0ZM322.5 413.0H325.0V427.9H322.5ZM326.4 413.0H329.2V427.9H326.4ZM329.8 398.4H332.8V427.9H329.8ZM334.9 434.6H338.2V443.3H334.9ZM338.7 427.7H348.2V443.3H338.7ZM339.9 413.0H342.8V429.5H339.9ZM341.8 434.6H345.1V443.3H341.8ZM346.4 434.6H349.7V457.2H346.4ZM348.7 413.0H352.5V443.3H348.7ZM344.2 428.4H347.8V443.1H344.2ZM349.0 428.4H355.9V443.1H349.0ZM350.0 411.7H352.1V429.4H350.0ZM347.8 442.7H350.6V457.4H347.8ZM354.9 442.7H361.3V450.8H354.9ZM356.1 450.4H358.3V457.4H356.1ZM358.5 450.4H360.7V457.4H358.5ZM359.1 435.5H364.3V443.1H359.1ZM360.3 428.1H363.1V436.5H360.3ZM362.7 442.7H366.1V449.0H362.7ZM363.9 449.8H370.2V457.4H363.9ZM366.9 442.1H369.0V450.8H366.9ZM369.2 456.7H375.0V459.5H369.2ZM370.4 458.8H374.4V464.5H370.4ZM372.8 464.1H374.4V471.9H372.8ZM377.0 457.0H384.5V464.5H377.0ZM379.4 442.1H381.6V458.0H379.4ZM378.8 464.1H380.4V471.9H378.8ZM381.7 464.1H383.9V471.9H381.7ZM385.9 457.0H389.9V464.5H385.9ZM388.3 464.1H389.9V471.9H388.3ZM390.1 464.1H394.7V471.9H390.1ZM392.2 457.0H394.1V465.1H392.2ZM394.3 470.8H401.8V472.3H394.3ZM401.4 465.3H403.6V472.3H401.4Z" fill="#000"/>
</g>
<rect x="297.4" y="374.8" width="106.0" height="97.2" fill="none" stroke="#151515" stroke-width="1.2"/>
<path d="M305.4 472.0V474.6M310.0 472.0V474.6M313.4 472.0V474.6M315.9 472.0V474.6M318.0 472.0V474.6M319.8 472.0V474.6M321.3 472.0V474.6M322.7 472.0V474.6M323.9 472.0V475.2M331.9 472.0V474.6M336.5 472.0V474.6M339.9 472.0V474.6M342.4 472.0V474.6M344.5 472.0V474.6M346.3 472.0V474.6M347.8 472.0V474.6M349.2 472.0V474.6M350.4 472.0V475.2M358.4 472.0V474.6M363.0 472.0V474.6M366.4 472.0V474.6M368.9 472.0V474.6M371.0 472.0V474.6M372.8 472.0V474.6M374.3 472.0V474.6M375.7 472.0V474.6M376.9 472.0V475.2M384.9 472.0V474.6M389.5 472.0V474.6M392.9 472.0V474.6M395.4 472.0V474.6M397.5 472.0V474.6M399.3 472.0V474.6M400.8 472.0V474.6M402.2 472.0V474.6M403.4 472.0V475.2" stroke="#111" stroke-width="1.2" fill="none"/>
<path d="M51.2 263.1H56.0M53.4 269.2H56.0M53.4 275.3H56.0M53.4 281.5H56.0M53.4 287.6H56.0M51.2 293.7H56.0M53.4 299.8H56.0M53.4 305.9H56.0M53.4 312.1H56.0M53.4 318.2H56.0M51.2 324.3H56.0M53.4 330.4H56.0M53.4 336.5H56.0M53.4 342.7H56.0M53.4 348.8H56.0M51.2 354.9H56.0" stroke="#111" stroke-width="1.3" fill="none"/>
<path d="M174.9 262.9H177.5M174.9 269.6H177.5M174.9 276.3H177.5M174.9 282.9H177.5M172.9 289.6H177.5M174.9 296.3H177.5M174.9 303.0H177.5M174.9 309.7H177.5M174.9 316.3H177.5M172.9 323.0H177.5M174.9 329.7H177.5M174.9 336.4H177.5M174.9 343.1H177.5M174.9 349.7H177.5M172.9 356.4H177.5" stroke="#111" stroke-width="1.3" fill="none"/>
<path d="M293.8 262.6H297.6M295.2 267.5H297.6M295.2 272.4H297.6M295.2 277.3H297.6M295.2 282.2H297.6M293.8 287.1H297.6M295.2 292.0H297.6M295.2 296.9H297.6M295.2 301.8H297.6M295.2 306.7H297.6M293.8 311.6H297.6M295.2 316.5H297.6M295.2 321.4H297.6M295.2 326.3H297.6M295.2 331.2H297.6M293.8 336.1H297.6M295.2 341.0H297.6M295.2 345.9H297.6M295.2 350.8H297.6M295.2 355.7H297.6" stroke="#111" stroke-width="1.3" fill="none"/>
<path d="M50.4 375.2H54.8M52.4 382.6H54.8M52.4 390.0H54.8M50.4 397.5H54.8M52.4 404.9H54.8M52.4 412.3H54.8M50.4 419.7H54.8M52.4 427.1H54.8M52.4 434.6H54.8M50.4 442.0H54.8M52.4 449.4H54.8M52.4 456.8H54.8M50.4 464.2H54.8M52.4 471.7H54.8" stroke="#111" stroke-width="1.3" fill="none"/>
<path d="M171.8 375.5H175.6M173.2 379.1H175.6M173.2 382.7H175.6M171.8 386.3H175.6M173.2 389.9H175.6M173.2 393.5H175.6M171.8 397.1H175.6M173.2 400.7H175.6M173.2 404.3H175.6M171.8 407.9H175.6M173.2 411.5H175.6M173.2 415.1H175.6M171.8 418.7H175.6M173.2 422.3H175.6M173.2 425.9H175.6M171.8 429.5H175.6M173.2 433.1H175.6M173.2 436.7H175.6M171.8 440.3H175.6M173.2 443.9H175.6M173.2 447.5H175.6M171.8 451.1H175.6M173.2 454.7H175.6M173.2 458.3H175.6M171.8 461.9H175.6M173.2 465.5H175.6M173.2 469.1H175.6" stroke="#111" stroke-width="1.3" fill="none"/>
<path d="M293.2 375.3H297.4M295.0 380.4H297.4M295.0 385.4H297.4M293.2 390.5H297.4M295.0 395.5H297.4M295.0 400.6H297.4M293.2 405.6H297.4M295.0 410.7H297.4M295.0 415.7H297.4M293.2 420.8H297.4M295.0 425.8H297.4M295.0 430.9H297.4M293.2 435.9H297.4M295.0 441.0H297.4M295.0 446.0H297.4M293.2 451.1H297.4M295.0 456.1H297.4M295.0 461.2H297.4M293.2 466.2H297.4M295.0 471.3H297.4" stroke="#111" stroke-width="1.3" fill="none"/>
<path d="M77.7 189.9H272" stroke="#000" stroke-width="1.6"/><path d="M281.8 189.9L270.6 184.4V195.4Z" fill="#000"/><path d="M73.1 507.1H233" stroke="#000" stroke-width="1.8"/><path d="M241.7 507.4L231.3 501.9V512.9Z" fill="#000"/>
<text x="1.9" y="21.9" font-size="29.0" text-anchor="start">A</text>
<text x="-0.2" y="253.4" font-size="29.0" text-anchor="start">B</text>
<text x="91.0" y="15.4" font-size="17.5" text-anchor="start">B cells</text>
<text x="347.5" y="15.4" font-size="17.5" text-anchor="start">NK cells</text>
<text x="65.2" y="56.8" font-size="15.5" text-anchor="middle">BM</text>
<text x="197.6" y="56.8" font-size="15.5" text-anchor="middle">Spleen</text>
<text x="327.4" y="56.8" font-size="15.5" text-anchor="middle">BM</text>
<text x="460.0" y="56.8" font-size="15.5" text-anchor="middle">Spleen</text>
<text x="115.2" y="87.9" font-size="13.4" text-anchor="end">14 / 60</text>
<text x="243.4" y="87.9" font-size="13.4" text-anchor="end">8 / 56</text>
<text x="380.6" y="87.9" font-size="13.4" text-anchor="end">16 / 55</text>
<text x="509.3" y="87.9" font-size="13.4" text-anchor="end">9 / 31</text>
<text x="155.4" y="279.7" font-size="13.4" text-anchor="end">14 / 36</text>
<text x="275.4" y="279.7" font-size="13.4" text-anchor="end">9 / 17</text>
<text x="396.4" y="279.7" font-size="13.4" text-anchor="end">7 / 12</text>
<text x="153.4" y="395.5" font-size="13.4" text-anchor="end">10 / 25</text>
<text x="275.0" y="395.5" font-size="13.4" text-anchor="end">9 / 34</text>
<text x="397.0" y="395.5" font-size="13.4" text-anchor="end">12 / 46</text>
<text x="107.6" y="244.8" font-size="15.5" text-anchor="middle">CD43</text>
<text x="227.8" y="244.8" font-size="15.5" text-anchor="middle">CD45R</text>
<text x="347.4" y="244.8" font-size="15.5" text-anchor="middle">CD117</text>
<text x="435.6" y="320.5" font-size="15.5" text-anchor="start">- / lo</text>
<text x="433.6" y="426.7" font-size="15.5" text-anchor="start">+ / hi</text>
<text x="297.3" y="196.3" font-size="18.1">NF</text>
<text transform="translate(322.8 196.3) scale(1.32 1)" font-size="13.4" font-weight="normal" style="font-weight:normal">κ</text>
<text x="331.1" y="196.3" font-size="18.1">B activity</text>
<text x="255.7" y="513.6" font-size="18.1">NF</text>
<text transform="translate(281.2 513.6) scale(1.32 1)" font-size="13.4" font-weight="normal" style="font-weight:normal">κ</text>
<text x="289.5" y="513.6" font-size="18.1">B activity</text>
</svg>
</body></html>
